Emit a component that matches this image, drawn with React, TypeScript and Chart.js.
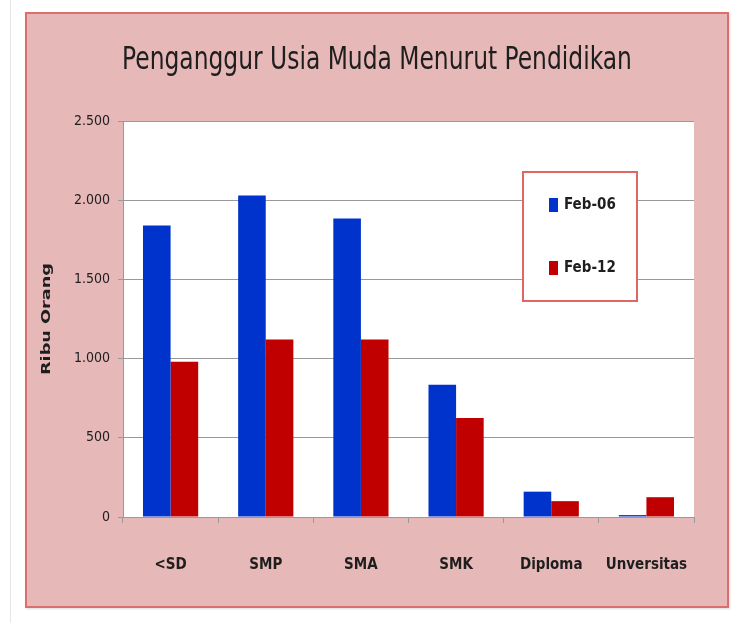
import React, { useEffect, useRef } from "react";
import { Chart, registerables } from "chart.js";

Chart.register(...registerables);

const categories = ["<SD", "SMP", "SMA", "SMK", "Diploma", "Unversitas"];
const feb06 = [1840, 2030, 1885, 835, 160, 12];
const feb12 = [980, 1120, 1120, 625, 100, 125];
const seriesLabels = ["Feb-06", "Feb-12"];
const yTicks = [0, 500, 1000, 1500, 2000, 2500];
const titleText = "Penganggur Usia Muda Menurut Pendidikan";
const yTitle = "Ribu Orang";

const FONT = "'DejaVu Sans Condensed', 'Open Sans', sans-serif";
const BLUE = "#0033cc";
const RED = "#c00000";
const TEXT = "#1e1e1e";

const fmt = (v: number) => v.toLocaleString("de-DE");

const plotBg = {
  id: "plotBg",
  beforeDraw(chart: any) {
    const { ctx, chartArea } = chart;
    ctx.save();
    ctx.fillStyle = "#ffffff";
    ctx.fillRect(chartArea.left, chartArea.top, chartArea.right - chartArea.left, chartArea.bottom - chartArea.top);
    ctx.restore();
  },
};

const texts = {
  id: "texts",
  afterDraw(chart: any) {
    const { ctx, chartArea } = chart;
    ctx.save();
    // title
    ctx.fillStyle = TEXT;
    ctx.font = `26px ${FONT}`;
    ctx.textAlign = "center";
    ctx.textBaseline = "middle";
    ctx.translate(350, 47);
    ctx.scale(1.0, 1.2);
    ctx.fillText(titleText, 0, 0);
    ctx.restore();

    // y axis title
    ctx.save();
    ctx.fillStyle = TEXT;
    ctx.font = `bold 13px ${FONT}`;
    ctx.textAlign = "center";
    ctx.textBaseline = "middle";
    const w = ctx.measureText(yTitle).width;
    ctx.translate(20, (chartArea.top + chartArea.bottom) / 2);
    ctx.rotate(-Math.PI / 2);
    ctx.scale(112 / w, 1);
    ctx.fillText(yTitle, 0, 0);
    ctx.restore();

    // legend inside plot
    const x = chartArea.left + 400;
    const y = chartArea.top + 51;
    const lw = 114;
    const lh = 129;
    ctx.save();
    ctx.fillStyle = "#ffffff";
    ctx.fillRect(x, y, lw, lh);
    ctx.strokeStyle = "#e06666";
    ctx.lineWidth = 2;
    ctx.strokeRect(x, y, lw, lh);
    ctx.font = `bold 15px ${FONT}`;
    ctx.textBaseline = "middle";
    chart.data.datasets.forEach((ds: any, i: number) => {
      const cy = y + 33 + i * 63;
      ctx.fillStyle = ds.backgroundColor;
      ctx.fillRect(x + 26, cy - 7, 9, 14);
      ctx.fillStyle = TEXT;
      ctx.fillText(ds.label, x + 41, cy);
    });
    ctx.restore();
  },
};

export default function App() {
  const ref = useRef<HTMLCanvasElement>(null);
  useEffect(() => {
    if (!ref.current) return;
    const chart = new Chart(ref.current, {
      type: "bar",
      data: {
        labels: categories,
        datasets: [
          { label: seriesLabels[0], data: feb06, backgroundColor: BLUE, borderWidth: 0 },
          { label: seriesLabels[1], data: feb12, backgroundColor: RED, borderWidth: 0 },
        ],
      },
      options: {
        responsive: false,
        animation: false,
        devicePixelRatio: 1,
        layout: { padding: { left: 0, right: 33, top: 107, bottom: 0 } },
        datasets: { bar: { barPercentage: 1, categoryPercentage: 0.58 } },
        plugins: {
          legend: { display: false },
          tooltip: { enabled: false },
          title: { display: false },
        },
        scales: {
          x: {
            grid: { drawOnChartArea: false, tickLength: 6, color: "#999999", offset: true },
            border: { display: true, color: "#999999", width: 1 },
            ticks: { color: TEXT, padding: 33, font: { family: FONT, size: 15, weight: "bold" } },
            afterFit: (s: any) => { s.height = 89; },
          },
          y: {
            min: 0,
            max: 2500,
            afterBuildTicks: (s: any) => { s.ticks = yTicks.map((v) => ({ value: v })); },
            grid: { color: "#999999", tickLength: 5, drawTicks: true },
            border: { display: true, color: "#999999", width: 1 },
            ticks: { color: TEXT, padding: 8, font: { family: FONT, size: 14 }, callback: (v: any) => fmt(Number(v)) },
            afterFit: (s: any) => { s.width = 96; },
          },
        },
      },
      plugins: [plotBg, texts],
    });
    return () => chart.destroy();
  }, []);

  return (
    <div>
      <div style={{ position: "absolute", left: 10, top: 0, width: 1, height: 623, background: "#e6e6e6" }} />
      <div
        style={{
          position: "absolute",
          left: 25,
          top: 12,
          width: 704,
          height: 596,
          boxSizing: "border-box",
          background: "#e6b8b7",
          border: "2px solid #dc6e6e",
          boxShadow: "1px 1px 2px rgba(0,0,0,0.15)",
        }}
      >
        <canvas ref={ref} width={700} height={592} style={{ display: "block" }} />
      </div>
    </div>
  );
}
